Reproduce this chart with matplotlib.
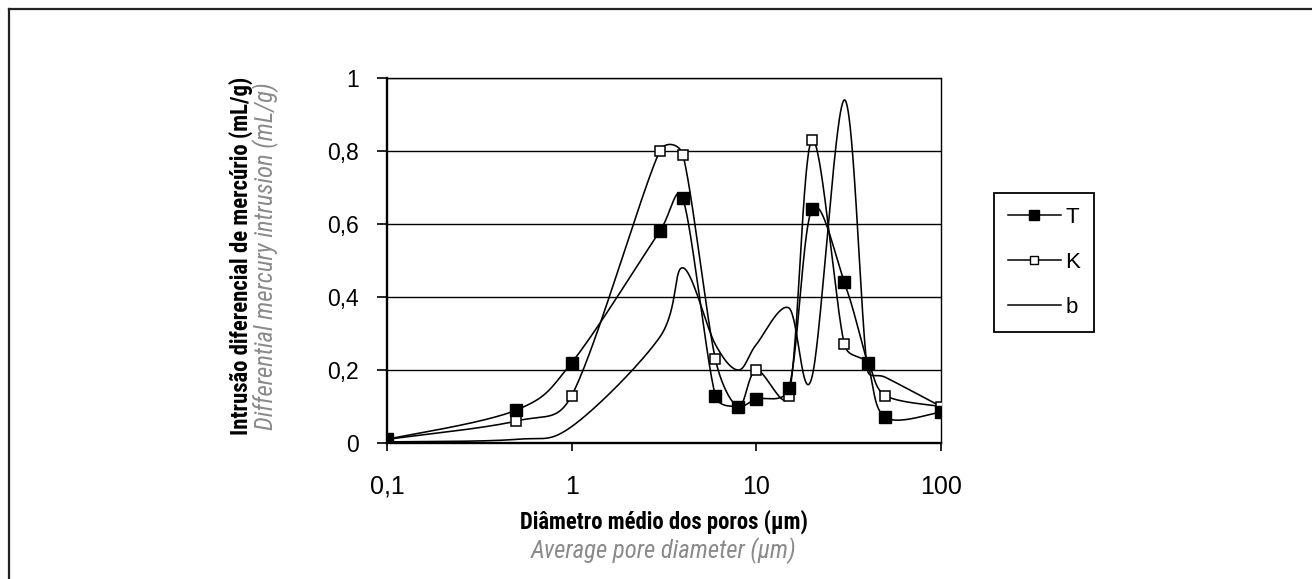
import os
import numpy as np
import matplotlib
matplotlib.use("Agg")
import matplotlib.pyplot as plt
from matplotlib.lines import Line2D
from matplotlib import font_manager as fm

# ---------------- data ----------------
diam = [0.1, 0.5, 1, 3, 4, 6, 8, 10, 15, 20, 30, 40, 50, 100]
T_vals = [0.01, 0.09, 0.22, 0.58, 0.67, 0.13, 0.10, 0.12, 0.15, 0.64, 0.44, 0.22, 0.07, 0.085]
K_vals = [0.01, 0.06, 0.13, 0.80, 0.79, 0.23, 0.10, 0.20, 0.13, 0.83, 0.27, 0.22, 0.13, 0.10]
b_vals = [0.003, 0.01, 0.045, 0.29, 0.48, 0.27, 0.20, 0.27, 0.37, 0.18, 0.94, 0.20, 0.18, 0.10]
series_names = ["T", "K", "b"]

x_ticks = [0.1, 1, 10, 100]
x_ticklabels = ["0,1", "1", "10", "100"]
y_ticks = [0, 0.2, 0.4, 0.6, 0.8, 1.0]
y_ticklabels = ["0", "0,2", "0,4", "0,6", "0,8", "1"]

xlabel_pt = "Diâmetro médio dos poros (\u00b5m)"
xlabel_en = "Average pore diameter (\u00b5m)"
ylabel_pt = "Intrusão diferencial de mercúrio (mL/g)"
ylabel_en = "Differential mercury intrusion (mL/g)"

plt.rcParams["font.family"] = ["Liberation Sans", "DejaVu Sans"]


# ---------------- find a condensed font ----------------
def _is_bold(f):
    w = f.weight
    if isinstance(w, str):
        return w.lower() in ("bold", "heavy", "black", "demibold", "semibold", "extra bold")
    return w >= 600


def _is_italic(f):
    return f.style in ("italic", "oblique")


def find_narrow(bold, italic):
    prefs = ["liberationsansnarrow", "robotocondensed", "notosans", "opensans",
             "dejavusanscondensed", "condensed", "narrow"]
    cands = []
    for f in fm.fontManager.ttflist:
        fn = os.path.basename(f.fname).lower().replace("-", "").replace("_", "")
        nm = f.name.lower().replace(" ", "")
        key = fn + "|" + nm
        if not ("narrow" in key or "condensed" in key):
            continue
        if "semicondensed" in key or "extracondensed" in key or "ultracondensed" in key:
            continue
        if _is_bold(f) != bold or _is_italic(f) != italic:
            continue
        if "light" in key or "thin" in key or "medium" in key or "black" in key:
            continue
        rank = len(prefs)
        for i, p in enumerate(prefs):
            if p in key:
                rank = i
                break
        cands.append((rank, f.fname))
    if not cands:
        return None
    cands.sort()
    return cands[0][1]


def narrow_props(bold, italic, size):
    path = find_narrow(bold, italic)
    if path is not None:
        return fm.FontProperties(fname=path, size=size)
    return fm.FontProperties(family=["Liberation Sans", "DejaVu Sans"],
                             weight="bold" if bold else "normal",
                             style="italic" if italic else "normal", size=size * 0.82)


W, H = 1312, 579
fig = plt.figure(figsize=(W / 100, H / 100), dpi=100)
fig.patch.set_facecolor("white")

ax_l, ax_r, ax_t, ax_b = 387, 941, 78, 443
ax = fig.add_axes([ax_l / W, 1 - ax_b / H, (ax_r - ax_l) / W, (ax_b - ax_t) / H])
ax.set_xscale("log")
ax.set_xlim(0.1, 100)
ax.set_ylim(0, 1)


def excel_smooth(x, y, n=60):
    """Excel-style smoothed line: Bezier segments built in screen space."""
    trans = ax.transData
    pts = trans.transform(np.column_stack([np.asarray(x, float), np.asarray(y, float)]))
    m = len(pts)
    t = np.linspace(0, 1, n)[:, None]
    out = []
    for i in range(m - 1):
        p0 = pts[i - 1] if i > 0 else pts[i]
        p1 = pts[i]
        p2 = pts[i + 1]
        p3 = pts[i + 2] if i + 2 < m else pts[i + 1]
        d12 = np.hypot(*(p2 - p1))
        d02 = np.hypot(*(p2 - p0))
        d13 = np.hypot(*(p3 - p1))
        f1 = 1 / 6.0 if d02 == 0 else min(1 / 6.0, 0.5 * d12 / d02)
        f2 = 1 / 6.0 if d13 == 0 else min(1 / 6.0, 0.5 * d12 / d13)
        c1 = p1 + f1 * (p2 - p0)
        c2 = p2 - f2 * (p3 - p1)
        seg = (1 - t) ** 3 * p1 + 3 * (1 - t) ** 2 * t * c1 + 3 * (1 - t) * t ** 2 * c2 + t ** 3 * p2
        out.append(seg if i == 0 else seg[1:])
    s = trans.inverted().transform(np.vstack(out))
    return s[:, 0], s[:, 1]


lw_data = 1.15
bx, by = excel_smooth(diam, b_vals)
ax.plot(bx, by, color="black", lw=lw_data, zorder=3)
kx, ky = excel_smooth(diam, K_vals)
ax.plot(kx, ky, color="black", lw=lw_data, zorder=3)
ax.plot(diam, K_vals, linestyle="none", marker="s", markersize=7,
        markerfacecolor="white", markeredgecolor="black", markeredgewidth=1.1, zorder=4)
tx, ty = excel_smooth(diam, T_vals)
ax.plot(tx, ty, color="black", lw=lw_data, zorder=3)
ax.plot(diam, T_vals, linestyle="none", marker="s", markersize=8.3,
        markerfacecolor="black", markeredgecolor="black", zorder=5)

ax.set_xlim(0.1, 100)
ax.set_ylim(0, 1)
ax.set_xticks(x_ticks)
ax.set_xticklabels(x_ticklabels)
ax.xaxis.set_minor_locator(matplotlib.ticker.NullLocator())
ax.set_yticks(y_ticks)
ax.set_yticklabels(y_ticklabels)

ax.yaxis.grid(True, color="black", lw=1.0, zorder=1)
ax.set_axisbelow(True)
for side in ["left", "bottom"]:
    ax.spines[side].set_linewidth(1.7)
for side in ["top", "right"]:
    ax.spines[side].set_linewidth(1.0)

ax.tick_params(axis="y", direction="out", length=7, width=1.2, pad=13, labelsize=16.5)
ax.tick_params(axis="x", direction="out", length=6, width=1.2, pad=17, labelsize=18)

# axis titles
fp_b = narrow_props(True, False, 16.4)
fp_i = narrow_props(False, True, 17.8)
gray = "#8a8a8a"
fig.text((ax_l + ax_r) / 2 / W, 1 - 522 / H, xlabel_pt, ha="center", va="center",
         fontproperties=fp_b, color="black")
fig.text((ax_l + ax_r) / 2 / W, 1 - 551 / H, xlabel_en, ha="center", va="center",
         fontproperties=fp_i, color=gray)
fig.text(241 / W, 1 - 256 / H, ylabel_pt, ha="center", va="center", rotation=90,
         fontproperties=fp_b, color="black")
fig.text(266 / W, 1 - 256 / H, ylabel_en, ha="center", va="center", rotation=90,
         fontproperties=fp_i, color=gray)

# legend
handles = [
    Line2D([], [], color="black", lw=1.1, marker="s", markersize=7.5,
           markerfacecolor="black", markeredgecolor="black"),
    Line2D([], [], color="black", lw=1.1, marker="s", markersize=5.5,
           markerfacecolor="white", markeredgecolor="black", markeredgewidth=1.0),
    Line2D([], [], color="black", lw=1.1),
]
leg = fig.legend(handles, series_names, loc="upper left",
                 bbox_to_anchor=(994 / W, 1 - 193 / H), bbox_transform=fig.transFigure,
                 frameon=True, fancybox=False, edgecolor="black", framealpha=1,
                 prop={"family": ["Liberation Sans", "DejaVu Sans"], "size": 16},
                 handlelength=2.4, handletextpad=0.2, labelspacing=1.09,
                 borderpad=0.62, borderaxespad=0)
leg.get_frame().set_linewidth(1.3)

# outer frame (left and top edges)
fig.add_artist(Line2D([8.5 / W, 8.5 / W], [0, 1 - 9 / H], transform=fig.transFigure,
                      color="#222222", lw=1.6))
fig.add_artist(Line2D([8.5 / W, 1], [1 - 9 / H, 1 - 9 / H], transform=fig.transFigure,
                      color="#222222", lw=1.6))

fig.savefig("out.png", dpi=100, facecolor="white")
